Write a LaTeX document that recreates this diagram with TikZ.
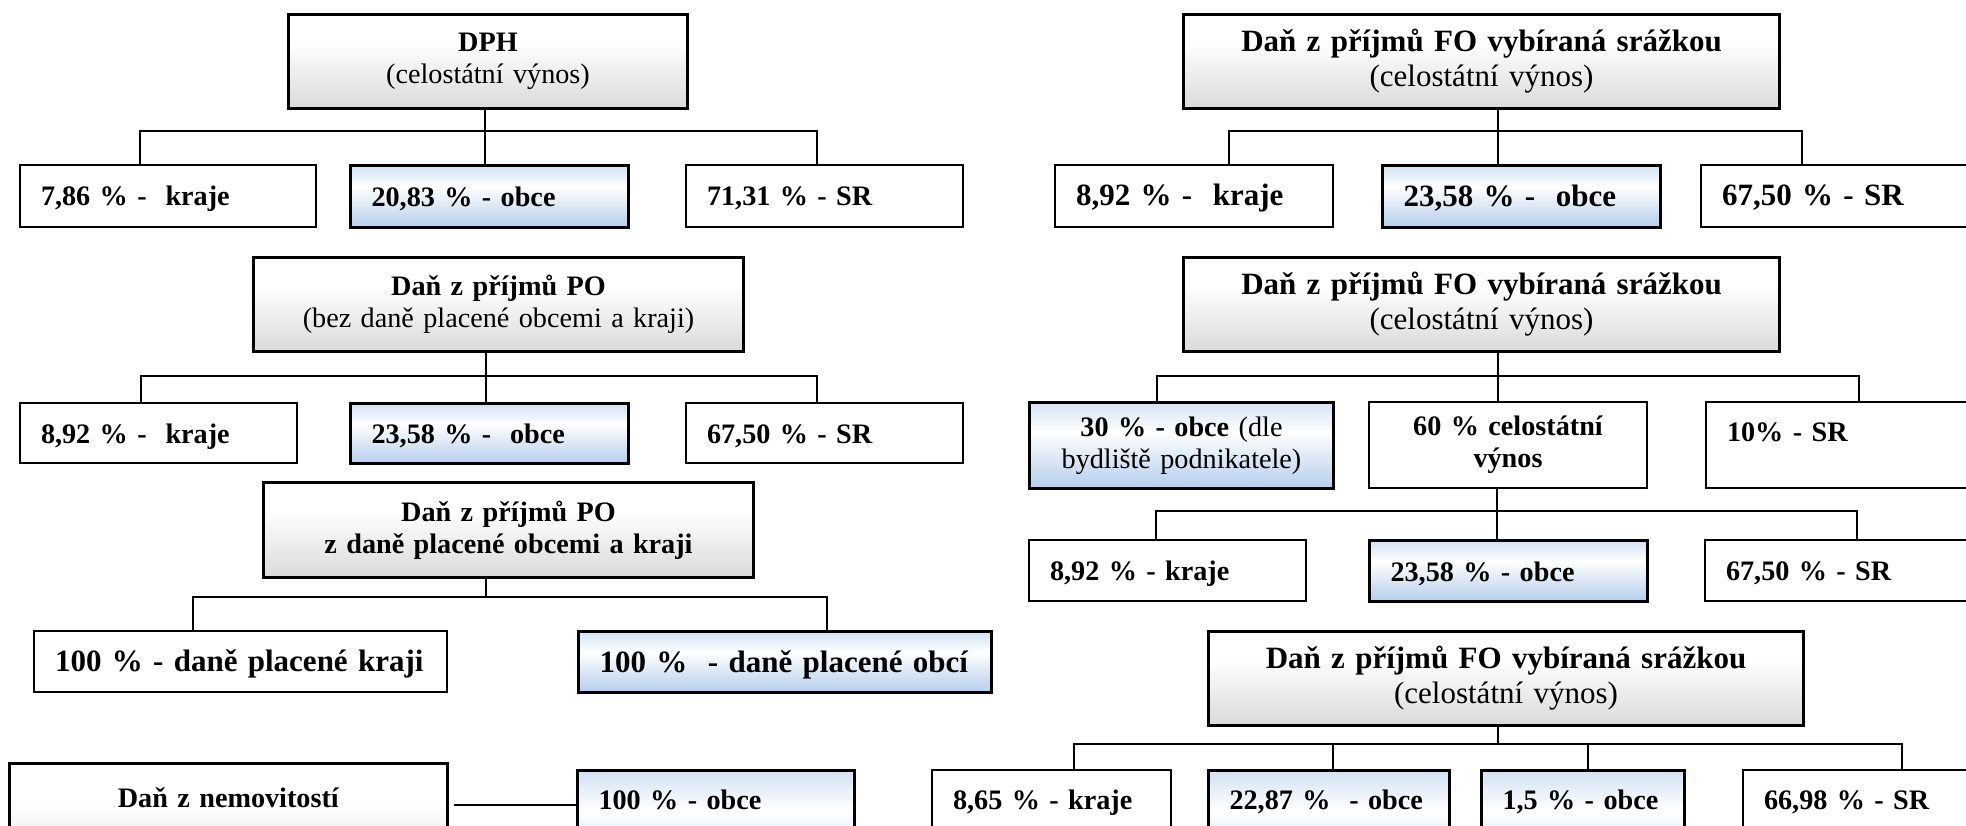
\documentclass[tikz,border=0pt]{standalone}
\usepackage{fontspec}
\setmainfont{Liberation Serif}
\usepackage{tikz}
\usetikzlibrary{calc}
\definecolor{obceBlue}{HTML}{8EB4E3}
\definecolor{headGray}{HTML}{BFBFBF}
\pgfdeclareverticalshading{bluebar}{100bp}{color(0bp)=(obceBlue); color(8bp)=(obceBlue); color(58bp)=(white); color(92bp)=(obceBlue!80); color(100bp)=(obceBlue!80)}
\pgfdeclareverticalshading{grayhead}{100bp}{color(0bp)=(headGray); color(60bp)=(white); color(88bp)=(white); color(100bp)=(headGray!70)}
\newcommand{\normtxt}{\fontsize{28.2}{32}\selectfont}
\newcommand{\bigtxt}{\fontsize{31}{35}\selectfont}
\tikzset{
  wh/.code 2 args={\pgfmathsetlengthmacro\cellw{#1pt-42pt}%
    \tikzset{minimum width=#1pt,minimum height=#2pt,text width/.expanded=\cellw}},
  head/.style={draw, line width=3pt, shading=grayhead, anchor=north west, inner xsep=21pt, align=center, font=\normtxt},
  cell/.style={draw, line width=2pt, fill=white, anchor=north west, inner xsep=21pt, align=left, font=\normtxt\bfseries},
  tint/.style={line width=3pt, shading=bluebar},
  part/.style={cell, text height=20pt, text depth=0pt},
  obce/.style={part, tint},
  big/.style={font=\bigtxt\bfseries},
  cut/.style={text depth=60pt, inner ysep=19pt},
  link/.style={line width=2pt},
}
\begin{document}
\begin{tikzpicture}[x=1pt, y=-1pt]
\useasboundingbox (0,0) rectangle (1966,826);
% ---------- DPH ----------
\node[head, wh={399}{94}] (dph) at (287,13) {\textbf{DPH}\\(celostátní výnos)};
\node[part, wh={296}{62}] (dphkraje) at (19,164) {7,86 \% -~ kraje};
\node[obce, wh={278}{62}] (dphobce) at (349,164) {20,83 \% - obce};
\node[part, wh={277}{62}] (dphsr) at (685,164) {71,31 \% - SR};
\draw[link] ([xshift=-3pt]dph.south) -- ++(0,21) -| ([xshift=-28pt]dphkraje.north);
\draw[link] ([xshift=-3pt]dph.south) -- ++(0,21) -| ([xshift=-8pt]dphsr.north);
\draw[link] ([xshift=-3pt]dph.south) -- ([xshift=-3pt]dph.south |- dphobce.north);
% ---------- Dan z prijmu PO ----------
\node[head, wh={490}{94}] (po) at (252,256) {\textbf{Daň z příjmů PO}\\(bez daně placené obcemi a kraji)};
\node[part, wh={277}{60}] (pokraje) at (19,402) {8,92 \% -~ kraje};
\node[obce, wh={278}{60}] (poobce) at (349,402) {23,58 \% -~ obce};
\node[part, wh={277}{60}] (posr) at (685,402) {67,50 \% - SR};
\draw[link] ([xshift=-13pt]po.south) -- ++(0,23) -| ([xshift=-18pt]pokraje.north);
\draw[link] ([xshift=-13pt]po.south) -- ++(0,23) -| ([xshift=-8pt]posr.north);
\draw[link] ([xshift=-13pt]po.south) -- ([xshift=-13pt]po.south |- poobce.north);
% ---------- PO placena obcemi a kraji ----------
\node[head, font=\normtxt\bfseries, wh={490}{95}] (potwo) at (262,481) {Daň z příjmů PO\\z daně placené obcemi a kraji};
\node[part, big, wh={413}{61}] (potwokraje) at (33,630) {100 \% - daně placené kraji};
\node[obce, big, wh={413}{61}] (potwoobce) at (577,630) {100 \%~ - daně placené obcí};
\draw[link] ([xshift=-23pt]potwo.south) -- ++(0,18) -| ([xshift=-48pt]potwokraje.north);
\draw[link] ([xshift=-23pt]potwo.south) -- ++(0,18) -| ([xshift=42pt]potwoobce.north);
% ---------- Dan z nemovitosti ----------
\node[head, wh={438}{0}, text height=20pt, text depth=60pt, inner ysep=24pt] (nem) at (8,762) {\textbf{Daň z nemovitostí}};
\node[obce, cut, wh={277}{0}] (nemobce) at (576,769) {100 \% - obce};
\draw[link, shorten <=5pt] (nem.mid east) -- (nem.mid east -| nemobce.west);
% ---------- FO srazkou (1) ----------
\node[head, font=\bigtxt, wh={596}{94}] (foone) at (1182,13) {\textbf{Daň z příjmů FO vybíraná srážkou}\\(celostátní výnos)};
\node[part, big, wh={278}{62}] (fookraje) at (1054,164) {8,92 \% -~ kraje};
\node[obce, big, wh={278}{62}] (fooobce) at (1381,164) {23,58 \% -~ obce};
\node[part, big, wh={290}{62}] (foosr) at (1700,164) {67,50 \% - SR};
\draw[link] ([xshift=16pt]foone.south) -- ++(0,21) -| ([xshift=35pt]fookraje.north);
\draw[link] ([xshift=16pt]foone.south) -- ++(0,21) -| ([xshift=-44pt]foosr.north);
\draw[link] ([xshift=16pt]foone.south) -- ([xshift=16pt]foone.south |- fooobce.north);
% ---------- FO srazkou (2) ----------
\node[head, font=\bigtxt, wh={596}{94}] (fotwo) at (1182,256) {\textbf{Daň z příjmů FO vybíraná srážkou}\\(celostátní výnos)};
\node[cell, tint, align=center, font=\normtxt, wh={304}{86}] (fotwoobce) at (1028,401) {\textbf{30 \% - obce} (dle\\bydliště podnikatele)};
\node[cell, align=center, wh={278}{86}] (fotwocel) at (1368,401) {60 \% celostátní\\výnos};
\node[cell, wh={285}{86}, text height=20pt, text depth=28pt] (fotwosr) at (1705,401) {10\% - SR};
\draw[link] ([xshift=16pt]fotwo.south) -- ++(0,23) -| ([xshift=-25pt]fotwoobce.north);
\draw[link] ([xshift=16pt]fotwo.south) -- ++(0,23) -| ([xshift=10pt]fotwosr.north);
\draw[link] ([xshift=16pt]fotwo.south) -- ([xshift=16pt]fotwo.south |- fotwocel.north);
% ---------- 60 % celostatni vynos ----------
\node[part, wh={277}{61}] (celkraje) at (1028,539) {8,92 \% - kraje};
\node[obce, wh={278}{61}] (celobce) at (1368,539) {23,58 \% - obce};
\node[part, wh={286}{61}] (celsr) at (1704,539) {67,50 \% - SR};
\draw[link] ([xshift=-11pt]fotwocel.south) -- ++(0,22) -| ([xshift=-12pt]celkraje.north);
\draw[link] ([xshift=-11pt]fotwocel.south) -- ++(0,22) -| ([xshift=9pt]celsr.north);
\draw[link] ([xshift=-11pt]fotwocel.south) -- ([xshift=-11pt]fotwocel.south |- celobce.north);
% ---------- FO srazkou (3) ----------
\node[head, font=\bigtxt, wh={595}{94}] (fothree) at (1207,630) {\textbf{Daň z příjmů FO vybíraná srážkou}\\(celostátní výnos)};
\node[part, cut, wh={239}{0}] (fotkraje) at (931,769) {8,65 \% - kraje};
\node[obce, cut, wh={241}{0}] (fotobce) at (1207,769) {22,87 \%~ - obce};
\node[obce, cut, wh={203}{0}] (fotobceb) at (1480,769) {1,5 \% - obce};
\node[part, cut, wh={250}{0}] (fotsr) at (1742,769) {66,98 \% - SR};
\draw[link] ([xshift=-8pt]fothree.south) -- ++(0,17) -| ([xshift=22pt]fotkraje.north);
\draw[link] ([xshift=-8pt]fothree.south) -- ++(0,17) -| ([xshift=4pt]fotobce.north);
\draw[link] ([xshift=-8pt]fothree.south) -- ++(0,17) -| ([xshift=5pt]fotobceb.north);
\draw[link] ([xshift=-8pt]fothree.south) -- ++(0,17) -| ([xshift=34pt]fotsr.north);
\end{tikzpicture}
\end{document}
